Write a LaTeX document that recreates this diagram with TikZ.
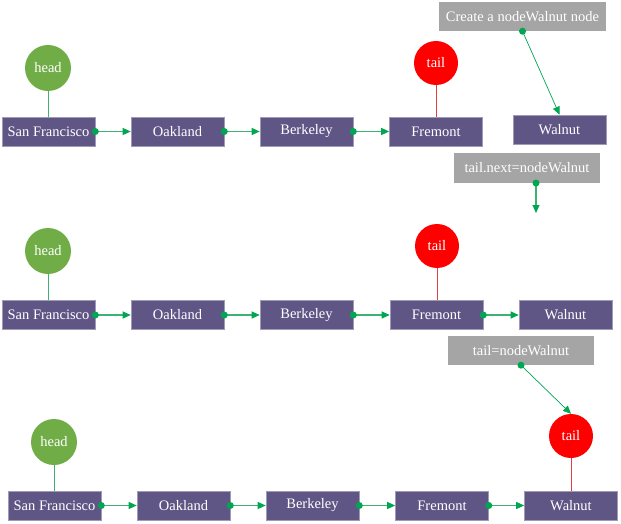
\documentclass[tikz,border=0pt]{standalone}
\usepackage{fontspec}
\setmainfont{Liberation Serif}
\usetikzlibrary{arrows.meta}
\definecolor{boxc}{RGB}{96,86,134}
\definecolor{headc}{RGB}{112,173,71}
\definecolor{tailc}{RGB}{255,0,0}
\definecolor{grayc}{RGB}{165,165,165}
\definecolor{dotc}{RGB}{0,166,81}
\definecolor{linec}{RGB}{60,179,113}
\definecolor{tlinec}{RGB}{224,64,64}
\tikzset{
  txt/.style={font=\fontsize{14.5}{17}\selectfont},
  city/.style={txt, fill=boxc, draw=boxc!60!white, line width=0.6pt, text=white, minimum width=93pt, minimum height=29pt, inner sep=0pt},
  headn/.style={txt, circle, fill=headc, text=white, minimum size=46pt, inner sep=0pt},
  tailn/.style={txt, circle, fill=tailc, text=white, minimum size=44pt, inner sep=0pt},
  note/.style={txt, fill=grayc, text=white, minimum height=29pt, inner sep=0pt},
  link/.style={draw=linec, line width=1.1pt, -{Triangle[length=8pt,width=7pt,color=dotc]}},
  thin link/.style={draw=dotc, line width=0.7pt, -{Triangle[length=8pt,width=7pt,color=dotc]}},
  hline/.style={draw=linec, line width=1pt},
  tline/.style={draw=tlinec, line width=1pt},
  dot/.style={fill=dotc}
}
\begin{document}
\begin{tikzpicture}[x=1pt,y=-1pt]
\useasboundingbox (0,0) rectangle (621,524);
% Row 1
\node[city] (sf1) at (48.5,131.5) {San Francisco};
\node[city] (oa1) at (177.5,131.5) {Oakland};
\node[city] (be1) at (306.5,131.5) {Berkeley};
\node[city] (fr1) at (436,131.5) {Fremont};
\node[city] (wa1) at (559.5,129.5) {Walnut};
\node[headn] (h1) at (48,68) {head};
\node[tailn] (t1) at (436,63) {tail};
\node[note, minimum width=167pt] (g1) at (522.5,16.5) {Create a nodeWalnut node};
\draw[hline] (h1) -- (sf1.north -| h1);
\draw[tline] (t1) -- (fr1.north -| t1);
\draw[link] (sf1.east) -- (oa1.west);
\draw[link] (oa1.east) -- (be1.west);
\draw[link] (be1.east) -- (fr1.west);
\fill[dot] (sf1.east) circle (3.5pt) (oa1.east) circle (3.5pt) (be1.east) circle (3.5pt);
\draw[thin link] (g1.south) -- (wa1.north);
\fill[dot] (g1.south) circle (3.5pt);
% note 2
\node[note, minimum width=146pt] (g2) at (527,168) {tail.next=nodeWalnut};
\coordinate (g2s) at (536,183);
\coordinate (g2e) at (536,213);
\draw[link] (g2s) -- (g2e);
\fill[dot] (g2s) circle (3.5pt);
% Row 2
\node[city] (sf2) at (48.5,315) {San Francisco};
\node[city] (oa2) at (177.5,315) {Oakland};
\node[city] (be2) at (306.5,315) {Berkeley};
\node[city] (fr2) at (436.5,315) {Fremont};
\node[city] (wa2) at (565.5,315) {Walnut};
\node[headn] (h2) at (48,251) {head};
\node[tailn] (t2) at (437,246) {tail};
\draw[hline] (h2) -- (sf2.north -| h2);
\draw[tline] (t2) -- (fr2.north -| t2);
\draw[link] (sf2.east) -- (oa2.west);
\draw[link] (oa2.east) -- (be2.west);
\draw[link] (be2.east) -- (fr2.west);
\draw[link] (fr2.east) -- (wa2.west);
\fill[dot] (sf2.east) circle (3.5pt) (oa2.east) circle (3.5pt) (be2.east) circle (3.5pt) (fr2.east) circle (3.5pt);
% note 3
\node[note, minimum width=146pt] (g3) at (521,350.5) {tail=nodeWalnut};
% Row 3
\node[city] (sf3) at (54.5,505.5) {San Francisco};
\node[city] (oa3) at (183.5,505.5) {Oakland};
\node[city] (be3) at (312.5,505.5) {Berkeley};
\node[city] (fr3) at (442,505.5) {Fremont};
\node[city] (wa3) at (571,505.5) {Walnut};
\node[headn] (h3) at (54,442) {head};
\node[tailn] (t3) at (571,436) {tail};
\draw[hline] (h3) -- (sf3.north -| h3);
\draw[tline] (t3) -- (wa3.north -| t3);
\draw[link] (sf3.east) -- (oa3.west);
\draw[link] (oa3.east) -- (be3.west);
\draw[link] (be3.east) -- (fr3.west);
\draw[link] (fr3.east) -- (wa3.west);
\fill[dot] (sf3.east) circle (3.5pt) (oa3.east) circle (3.5pt) (be3.east) circle (3.5pt) (fr3.east) circle (3.5pt);
\draw[thin link] (g3.south) -- (t3.north);
\fill[dot] (g3.south) circle (3.5pt);
\end{tikzpicture}
\end{document}
